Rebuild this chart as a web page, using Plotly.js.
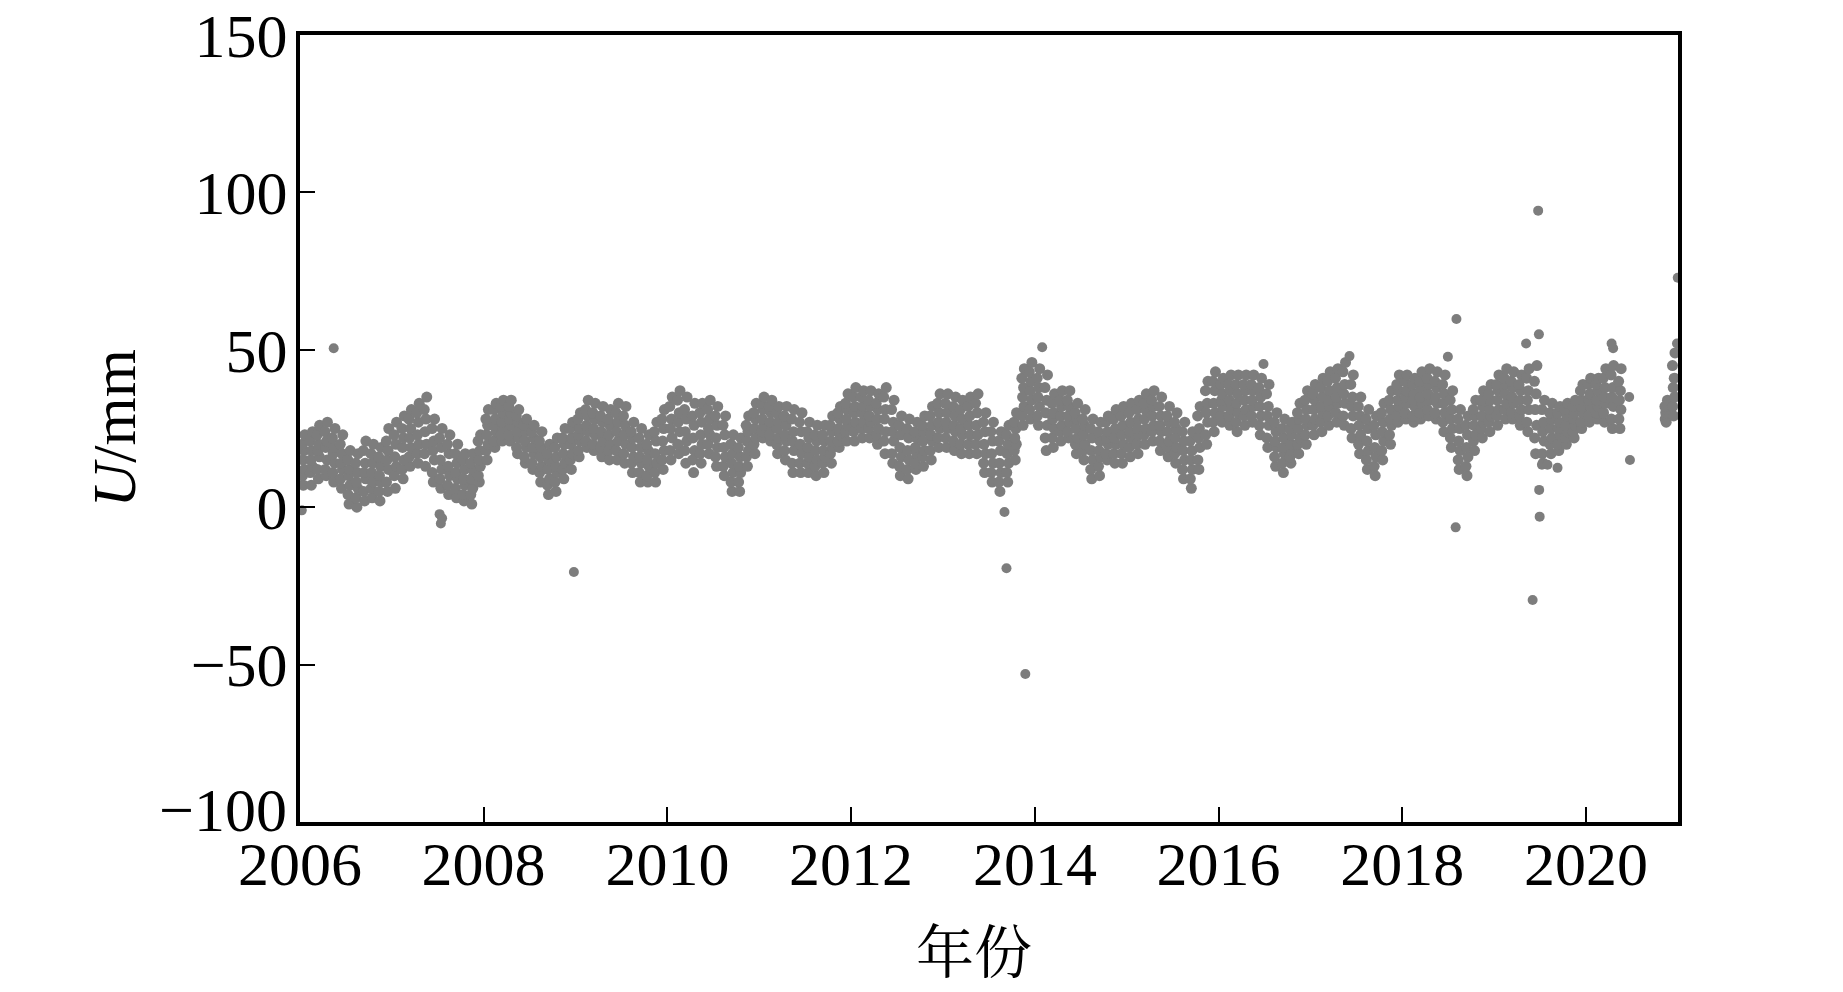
<!DOCTYPE html>
<html>
<head>
<meta charset="utf-8">
<script src="https://cdn.plot.ly/plotly-3.0.1.min.js"></script>
<style>
  html, body { margin: 0; padding: 0; background: #ffffff; }
  #chart { width: 1843px; height: 992px; }
</style>
</head>
<body>
<div id="chart"></div>
<script>
// Band of daily GNSS vertical displacement U (mm), read month by month
// (each row = readings spread across the band in that month, Jan..Dec)
const years = [2006, 2007, 2008, 2009, 2010, 2011, 2012, 2013, 2014, 2015, 2016, 2017, 2018, 2019, 2020];

const u2006 = [
  [7,10,12,15,18,20,23],[7,11,13,15,18,21,24],[9,12,16,18,20,23,26],[10,12,15,19,21,24,27],
  [8,11,14,17,19,22,25],[6,9,12,14,17,20,23],[1,4,7,10,12,15,18],[0,3,6,8,11,14,17],
  [2,5,9,11,14,18,21],[3,6,8,11,14,17,20],[2,5,8,10,13,16,19],[5,8,12,15,18,21,25]];
const u2007 = [
  [6,10,13,16,20,23,27],[9,12,15,19,22,25,29],[13,16,19,22,25,28,31],[14,17,20,23,27,30,33],
  [13,17,20,24,28,31,35],[8,11,15,18,21,25,28],[6,9,12,15,19,22,25],[4,7,10,13,17,20,23],
  [3,6,9,11,14,17,20],[2,4,7,9,12,15,17],[1,4,6,9,12,14,17],[8,10,13,15,18,21,23]];
const u2008 = [
  [15,18,20,23,26,28,31],[19,21,24,26,28,31,33],[21,23,25,27,30,32,34],[21,23,26,28,30,32,34],
  [17,19,22,24,27,29,31],[14,16,19,21,24,26,28],[12,14,17,19,22,24,26],[8,11,13,16,19,21,24],
  [4,7,9,12,15,17,20],[5,8,11,13,16,19,22],[9,12,14,17,20,22,25],[12,15,17,20,22,25,27]];
const u2009 = [
  [16,18,21,23,25,28,30],[19,21,24,26,29,31,34],[18,20,23,25,28,30,33],[16,19,21,24,27,29,32],
  [15,18,20,23,26,28,31],[15,18,21,24,27,30,33],[14,17,20,23,26,29,32],[11,14,16,19,22,24,27],
  [8,11,14,16,19,22,25],[8,10,13,15,18,20,23],[8,11,14,17,21,24,27],[12,15,18,21,25,28,31]];
const u2010 = [
  [15,18,22,25,28,32,35],[17,20,24,27,30,34,37],[14,18,21,24,28,31,35],[11,15,18,22,26,29,33],
  [14,17,20,23,27,30,33],[17,20,23,25,28,31,34],[13,16,19,22,26,29,32],[10,13,16,19,23,26,29],
  [5,8,11,14,17,20,23],[5,8,11,13,16,19,22],[13,16,18,21,24,26,29],[17,20,22,25,28,30,33]];
const u2011 = [
  [22,24,26,28,31,33,35],[21,23,25,27,30,32,34],[17,20,22,25,27,30,32],[15,18,21,23,26,29,32],
  [11,14,18,21,24,28,31],[11,14,17,20,24,27,30],[11,14,16,19,22,24,27],[10,13,15,18,21,23,26],
  [11,14,16,18,21,23,26],[14,17,19,21,24,26,29],[19,21,23,25,28,30,32],[21,24,26,28,31,33,36]];
const u2012 = [
  [21,24,27,30,32,35,38],[22,25,27,30,32,35,37],[22,25,27,29,32,34,37],[20,23,25,28,31,33,36],
  [17,21,24,28,31,35,38],[14,17,21,24,27,31,34],[10,13,16,19,23,26,29],[9,12,15,18,22,25,28],
  [12,14,17,19,22,24,27],[13,16,18,21,24,26,29],[15,18,21,23,26,29,32],[19,22,25,27,30,33,36]];
const u2013 = [
  [19,22,25,27,30,33,36],[18,21,24,26,29,32,35],[17,20,23,25,28,31,34],[17,20,23,26,29,32,35],
  [17,20,23,26,30,33,36],[11,14,17,20,24,27,30],[8,11,14,17,21,24,27],[5,8,11,14,18,21,24],
  [8,11,14,17,20,23,26],[15,18,20,22,25,27,30],[26,29,32,35,38,41,44],[28,31,34,37,40,43,46]];
const u2014 = [
  [26,29,32,35,38,41,44],[18,22,26,30,34,38,42],[19,22,25,28,30,33,36],[21,24,26,29,32,34,37],
  [22,24,27,29,32,34,37],[17,20,22,25,28,30,33],[15,18,20,23,26,28,31],[9,12,15,18,22,25,28],
  [10,13,16,18,21,24,27],[15,17,20,22,24,27,29],[14,17,20,22,25,28,31],[14,17,20,23,26,29,32]];
const u2015 = [
  [16,19,22,24,27,30,33],[17,20,23,25,28,31,34],[20,23,25,28,31,33,36],[21,24,26,29,32,34,37],
  [18,21,24,26,29,32,35],[16,19,21,24,27,29,32],[14,17,19,22,25,27,30],[9,12,15,18,21,24,27],
  [6,9,12,15,18,21,24],[12,15,19,22,25,29,32],[20,23,27,30,33,37,40],[24,27,30,33,37,40,43]];
const u2016 = [
  [27,29,32,34,36,39,41],[26,29,31,34,37,39,42],[24,27,30,33,36,39,42],[26,29,31,34,37,39,42],
  [27,29,32,34,37,39,42],[23,26,29,32,35,38,41],[19,22,26,29,32,36,39],[13,16,19,21,24,27,30],
  [11,14,17,19,22,25,28],[14,16,18,20,23,25,27],[17,20,22,25,28,30,33],[20,23,26,28,31,34,37]];
const u2017 = [
  [23,26,28,31,34,36,39],[24,27,30,32,35,38,41],[26,29,32,34,37,40,43],[27,30,33,35,38,41,44],
  [26,29,33,36,39,43,46],[22,25,29,32,35,39,42],[17,20,23,26,29,32,35],[12,15,18,21,25,28,31],
  [10,13,16,19,23,26,29],[15,18,21,24,27,30,33],[20,23,26,28,31,34,37],[27,29,32,34,37,39,42]];
const u2018 = [
  [28,30,33,35,37,40,42],[27,29,32,34,36,39,41],[28,30,33,35,38,40,43],[29,31,34,36,39,41,44],
  [28,30,33,35,38,40,43],[24,27,30,33,36,39,42],[19,22,25,28,31,34,37],[12,15,18,21,25,28,31],
  [10,13,16,19,23,26,29],[18,21,23,26,29,31,34],[22,25,27,29,32,34,37],[24,27,29,31,34,36,39]];
const u2019 = [
  [26,29,31,34,37,39,42],[28,31,33,36,39,41,44],[28,30,33,35,38,40,43],[26,29,31,34,37,39,42],
  [24,27,31,34,37,41,44],[17,22,26,31,36,40,45],[14,17,21,24,27,31,34],[17,20,22,25,28,30,33],
  [18,20,23,25,27,30,32],[20,22,24,26,29,31,33],[22,24,26,28,30,32,34],[25,27,30,32,34,37,39]];
const u2020 = [
  [27,29,32,34,36,39,41],[28,30,32,34,37,39,41],[27,30,33,35,38,41,44],[25,28,32,35,38,42,45],
  [25,28,31,34,37,40,44],[],[],[],
  [],[],[27,28,29,30,31,32,34],[29,32,35,38,41,45,49]];

// Day of the month of each reading in a row
const readingDays = [15, 11, 19, 13, 17, 10, 20];

// Isolated points / outliers (date, U in mm)
const outlierDates = ['2006-01-08','2006-05-15','2007-07-10','2007-07-15','2007-07-20','2008-12-25',
  '2013-09-02','2013-09-10','2013-11-24','2014-01-30','2016-06-28','2017-06-05','2018-07-01',
  '2018-08-01','2018-08-04','2019-05-08','2019-06-03','2019-06-25','2019-06-28','2019-06-29',
  '2019-07-01','2019-07-10','2019-08-01','2019-09-10','2020-04-12','2020-04-18','2020-06-21',
  '2020-06-24','2020-12-28','2020-12-31'];
const outlierValues = [-1, 50.5, -2.2, -5.2, -3.5, -20.6,
  -1.5, -19.4, -53, 50.8, 45.5, 48, 47.8,
  -6.4, 59.8, 52, -29.5, 94.2, 54.9, 5.5,
  -3, 13.5, 13.5, 12.5, 52, 50.5, 35,
  15, 52, 72.9];

const xTickVals = ['2006-01-01','2008-01-01','2010-01-01','2012-01-01','2014-01-01','2016-01-01','2018-01-01','2020-01-01'];
const xTickText = ['2006','2008','2010','2012','2014','2016','2018','2020'];
const yTickVals = [-100, -50, 0, 50, 100, 150];
const yTickText = ['', '\u221250', '0', '50', '100', '150'];
const yBottomLabel = '\u2212100';   // lowest y tick label, lifted clear of the x labels

// ---- build point lists ----
const bandRows = [u2006,u2007,u2008,u2009,u2010,u2011,u2012,u2013,u2014,u2015,u2016,u2017,u2018,u2019,u2020];
const bx = [], by = [];
years.forEach((yr, i) => {
  bandRows[i].forEach((row, m) => {
    row.forEach((v, k) => {
      const d = yr + '-' + String(m + 1).padStart(2, '0') + '-' + String(readingDays[k]).padStart(2, '0');
      bx.push(d); by.push(v);
    });
  });
});

const grey = '#7d7d7d';
const serif = 'Liberation Serif, Times New Roman, serif';
const bandTrace = {
  type: 'scatter', mode: 'markers', x: bx, y: by,
  marker: { size: 11, color: grey, line: { width: 0 } },
  hoverinfo: 'skip', showlegend: false
};
const outlierTrace = {
  type: 'scatter', mode: 'markers', x: outlierDates, y: outlierValues,
  marker: { size: 10, color: grey, line: { width: 0 } },
  hoverinfo: 'skip', showlegend: false
};

const layout = {
  width: 1843, height: 992,
  margin: { l: 300, r: 165, t: 35, b: 170 },
  paper_bgcolor: '#ffffff', plot_bgcolor: '#ffffff',
  font: { family: serif, size: 62, color: '#000000' },
  xaxis: {
    type: 'date', range: ['2006-01-01', '2021-01-01'],
    tickmode: 'array', tickvals: xTickVals, ticktext: xTickText,
    ticks: 'inside', ticklen: 15, tickwidth: 2, tickcolor: '#000',
    showline: true, linecolor: '#000', linewidth: 4, mirror: true,
    showgrid: false, zeroline: false,
    tickfont: { family: serif, size: 62, color: '#000' },
    ticklabelstandoff: -15
  },
  yaxis: {
    range: [-100, 150], tickmode: 'array', tickvals: yTickVals, ticktext: yTickText,
    ticks: 'inside', ticklen: 15, tickwidth: 2, tickcolor: '#000',
    showline: true, linecolor: '#000', linewidth: 4, mirror: true,
    showgrid: false, zeroline: false,
    tickfont: { family: serif, size: 62, color: '#000' },
    ticklabelstandoff: -4
  },
  annotations: [
    { text: yBottomLabel, xref: 'paper', yref: 'y', x: 0, y: yTickVals[0],
      xanchor: 'right', yanchor: 'middle', xshift: -12, yshift: 12, borderpad: 0, showarrow: false,
      font: { family: serif, size: 62, color: '#000' } },
    { text: '年份', xref: 'paper', yref: 'paper', x: 0.489, y: -0.160,
      xanchor: 'center', yanchor: 'middle', showarrow: false,
      font: { family: 'Noto Serif CJK SC, Noto Sans CJK SC, serif', size: 58, color: '#000' } },
    { text: '<i>U</i>/mm', xref: 'paper', yref: 'paper', x: -0.135, y: 0.5,
      xanchor: 'center', yanchor: 'middle', textangle: -90, showarrow: false,
      font: { family: serif, size: 62, color: '#000' } }
  ]
};

Plotly.newPlot('chart', [bandTrace, outlierTrace], layout, { displayModeBar: false, staticPlot: true });
</script>
</body>
</html>
